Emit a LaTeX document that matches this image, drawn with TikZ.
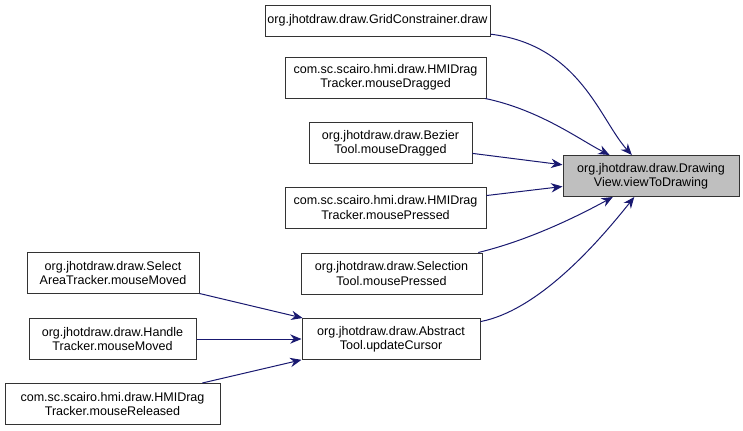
\documentclass[tikz,border=0pt]{standalone}
\usepackage{fontspec}
\setmainfont{Liberation Sans}
\usepackage{tikz}
\usetikzlibrary{arrows.meta, positioning}

\definecolor{edgeblue}{RGB}{25,25,112}
\tikzset{
	fn/.style={draw=black!80, line width=0.75pt, rectangle, align=center, inner sep=0pt,
		minimum height=30.75pt, minimum width=#1, font=\fontsize{9.4}{10.8}\selectfont},
	call/.style={edgeblue, line width=0.75pt, -{Stealth[length=8.5pt, width=7pt]}}
}

\begin{document}
\begin{tikzpicture}[x=0.75pt, y=-0.75pt]
	\useasboundingbox (0,0) rectangle (743,430);

	% callee
	\node[fn=132pt, fill=black!25] (view) at (651,176) {org.jhotdraw.draw.Drawing\\View.viewToDrawing};

	% direct callers
	\node[fn=168.75pt, minimum height=23.25pt] (grid) at (377.5,20.5) {org.jhotdraw.draw.GridConstrainer.draw};
	\node[fn=150.75pt] (hmidrag) at (385.5,77.5) {com.sc.scairo.hmi.draw.HMIDrag\\Tracker.mouseDragged};
	\node[fn=122.25pt] (bezier) at (390.5,143) {org.jhotdraw.draw.Bezier\\Tool.mouseDragged};
	\node[fn=150.75pt] (hmipress) at (385.5,207.5) {com.sc.scairo.hmi.draw.HMIDrag\\Tracker.mousePressed};
	\node[fn=135.75pt] (selection) at (391.5,273.5) {org.jhotdraw.draw.Selection\\Tool.mousePressed};
	\node[fn=133.5pt] (abstract) at (391,339) {org.jhotdraw.draw.Abstract\\Tool.updateCursor};

	% callers of updateCursor
	\node[fn=129pt] (selarea) at (113,273) {org.jhotdraw.draw.Select\\AreaTracker.mouseMoved};
	\node[fn=125.25pt] (handle) at (112.5,339) {org.jhotdraw.draw.Handle\\Tracker.mouseMoved};
	\node[fn=161.25pt] (hmirelease) at (112.5,404) {com.sc.scairo.hmi.draw.HMIDrag\\Tracker.mouseReleased};

	\draw[call] (grid) .. controls (580,45) and (600,120) .. (view);
	\draw[call] (hmidrag) .. controls (540,110) and (580,140) .. (view);
	\draw[call] (bezier) -- (view);
	\draw[call] (hmipress) -- (view);
	\draw[call] (selection) .. controls (530,240) and (580,215) .. (view);
	\draw[call] (abstract) .. controls (540,310) and (600,240) .. (view);

	\draw[call] (selarea) -- (abstract);
	\draw[call] (handle) -- (abstract);
	\draw[call] (hmirelease) -- (abstract);
\end{tikzpicture}
\end{document}
